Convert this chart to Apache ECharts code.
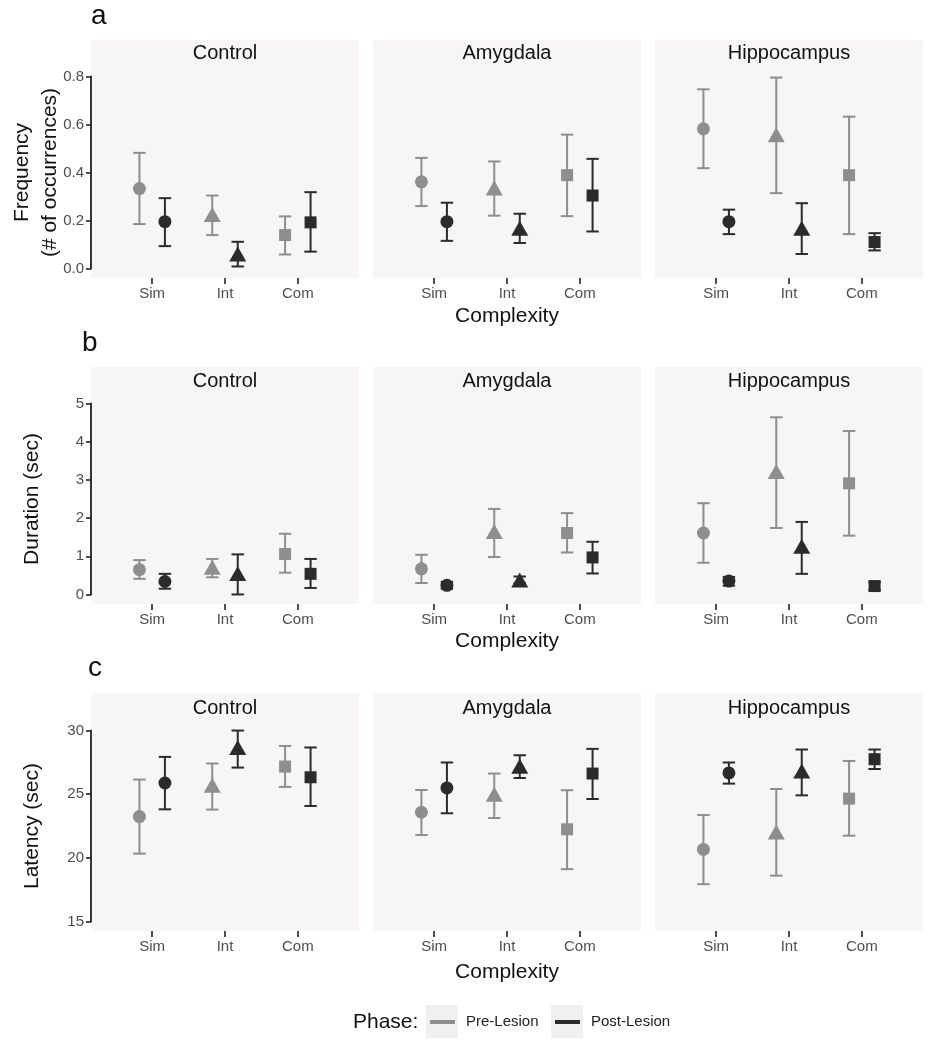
<!DOCTYPE html>
<html><head><meta charset="utf-8">
<script src="https://cdn.jsdelivr.net/npm/echarts@6/dist/echarts.min.js"></script>
<style>html,body{margin:0;padding:0;background:#fff}#c{width:940px;height:1050px}</style>
</head><body><div id="c"></div><script>
// ---------- DATA ----------
const regions = ['Control', 'Amygdala', 'Hippocampus'];
const complexity = ['Sim', 'Int', 'Com'];
const phases = ['Pre-Lesion', 'Post-Lesion'];
const shapes = ['circle', 'triangle', 'rect'];

// (a) Frequency (# of occurrences): [region][complexity]
const freqPreMean  = [[0.333, 0.225, 0.139], [0.361, 0.335, 0.389], [0.582, 0.557, 0.389]];
const freqPreLow   = [[0.185, 0.139, 0.058], [0.260, 0.220, 0.218], [0.418, 0.314, 0.143]];
const freqPreHigh  = [[0.482, 0.304, 0.217], [0.461, 0.446, 0.558], [0.747, 0.796, 0.633]];
const freqPostMean = [[0.195, 0.060, 0.192], [0.195, 0.168, 0.304], [0.195, 0.168, 0.110]];
const freqPostLow  = [[0.093, 0.008, 0.070], [0.115, 0.106, 0.154], [0.143, 0.060, 0.075]];
const freqPostHigh = [[0.293, 0.111, 0.318], [0.274, 0.228, 0.457], [0.245, 0.272, 0.147]];
const freqTicks = [0, 0.2, 0.4, 0.6, 0.8];

// (b) Duration (sec)
const durPreMean  = [[0.65, 0.71, 1.06], [0.67, 1.65, 1.61], [1.61, 3.22, 2.91]];
const durPreLow   = [[0.41, 0.45, 0.57], [0.30, 0.98, 1.10], [0.83, 1.74, 1.54]];
const durPreHigh  = [[0.90, 0.93, 1.59], [1.04, 2.24, 2.13], [2.39, 4.64, 4.28]];
const durPostMean = [[0.34, 0.55, 0.54], [0.24, 0.38, 0.97], [0.35, 1.26, 0.22]];
const durPostLow  = [[0.15, 0.00, 0.17], [0.15, 0.30, 0.55], [0.23, 0.54, 0.12]];
const durPostHigh = [[0.54, 1.05, 0.93], [0.33, 0.47, 1.38], [0.46, 1.90, 0.32]];
const durTicks = [0, 1, 2, 3, 4, 5];

// (c) Latency (sec)
const latPreMean  = [[23.24, 25.70, 27.17], [23.58, 24.99, 22.24], [20.66, 22.03, 24.65]];
const latPreLow   = [[20.33, 23.79, 25.57], [21.79, 23.13, 19.11], [17.93, 18.60, 21.74]];
const latPreHigh  = [[26.15, 27.41, 28.79], [25.33, 26.62, 25.31], [23.36, 25.41, 27.61]];
const latPostMean = [[25.88, 28.67, 26.33], [25.49, 27.20, 26.62], [26.67, 26.83, 27.75]];
const latPostLow  = [[23.81, 27.09, 24.07], [23.50, 26.27, 24.62], [25.83, 24.91, 26.98]];
const latPostHigh = [[27.93, 30.00, 28.67], [27.49, 28.06, 28.56], [27.49, 28.51, 28.51]];
const latTicks = [15, 20, 25, 30];

// ---------- LAYOUT / STYLE ----------
const FONT = 'Liberation Sans, Arial, Helvetica, sans-serif';
const PRE = '#8e8e8e', POST = '#2b2b2b', BG = '#f7f5f5', TICKC = '#4d4d4d';
const panelLeft = [91, 373, 655], panelW = 268;
const stripTop = [40, 367, 693], plotTop = [67, 394, 721], plotBottom = [278, 604, 931];
const stripCenter = [53, 381.5, 708];
const letters = ['a', 'b', 'c'], letterX = [91, 82, 88], letterY = [16.5, 343, 668];
const yRanges = [[-0.04, 0.84], [-0.25, 5.25], [14.25, 30.75]];
const X_MIN = 0.16, X_MAX = 3.84, DODGE = 0.175;
const yNames = ['Frequency\n(# of occurrences)', 'Duration (sec)', 'Latency (sec)'];
const yNameGap = [27, 45, 45];
const xNameGap = [28, 27, 31];

const rows = [
  {ticks: freqTicks, fmt: v => v.toFixed(1),
   pre: [freqPreMean, freqPreLow, freqPreHigh], post: [freqPostMean, freqPostLow, freqPostHigh]},
  {ticks: durTicks, fmt: v => String(v),
   pre: [durPreMean, durPreLow, durPreHigh], post: [durPostMean, durPostLow, durPostHigh]},
  {ticks: latTicks, fmt: v => String(v),
   pre: [latPreMean, latPreLow, latPreHigh], post: [latPostMean, latPostLow, latPostHigh]}
];

const grid = [], xAxis = [], yAxis = [], series = [], graphic = [];

function errRender(color) {
  return function (params, api) {
    const x = api.value(0), lo = api.value(1), hi = api.value(2);
    const pLo = api.coord([x, lo]), pHi = api.coord([x, hi]);
    const hw = 6.2;
    const style = {stroke: color, lineWidth: 2};
    return {type: 'group', children: [
      {type: 'line', shape: {x1: pLo[0], y1: pLo[1], x2: pHi[0], y2: pHi[1]}, style},
      {type: 'line', shape: {x1: pLo[0] - hw, y1: pLo[1], x2: pLo[0] + hw, y2: pLo[1]}, style},
      {type: 'line', shape: {x1: pHi[0] - hw, y1: pHi[1], x2: pHi[0] + hw, y2: pHi[1]}, style}
    ]};
  };
}
function symSize(i) { return i === 0 ? 13 : (i === 1 ? [17, 15] : 12); }

rows.forEach((row, r) => {
  // panel letter
  graphic.push({type: 'text', x: letterX[r], y: letterY[r], z: 1,
    style: {text: letters[r], fontSize: 28, fontFamily: FONT, fill: '#111', align: 'left', verticalAlign: 'middle'}});
  regions.forEach((reg, c) => {
    const gi = r * 3 + c;
    graphic.push({type: 'rect', z: 0, silent: true,
      shape: {x: panelLeft[c], y: stripTop[r], width: panelW, height: plotBottom[r] - stripTop[r]},
      style: {fill: BG}});
    graphic.push({type: 'text', z: 1, x: panelLeft[c] + panelW / 2, y: stripCenter[r],
      style: {text: reg, fontSize: 20, fontFamily: FONT, fill: '#111', align: 'center', verticalAlign: 'middle'}});
    grid.push({left: panelLeft[c], top: plotTop[r], width: panelW, height: plotBottom[r] - plotTop[r], containLabel: false});
    xAxis.push({
      type: 'value', gridIndex: gi, min: X_MIN, max: X_MAX,
      splitLine: {show: false},
      axisLine: {show: false, onZero: false},
      axisTick: {show: true, customValues: [1, 2, 3], length: 6, lineStyle: {color: '#222', width: 1.6}},
      axisLabel: {show: true, customValues: [1, 2, 3], formatter: v => complexity[Math.round(v) - 1] || '',
        margin: 8, fontSize: 15, color: TICKC, fontFamily: FONT},
      name: c === 1 ? 'Complexity' : '', nameLocation: 'middle', nameGap: xNameGap[r],
      nameTextStyle: {fontSize: 21, color: '#111', fontFamily: FONT}
    });
    yAxis.push({
      type: 'value', gridIndex: gi, min: yRanges[r][0], max: yRanges[r][1],
      splitLine: {show: false},
      axisLine: {show: false, onZero: false},
      axisTick: {show: c === 0, customValues: row.ticks, length: 5, lineStyle: {color: '#222', width: 1.6}},
      axisLabel: {show: c === 0, customValues: row.ticks, formatter: row.fmt,
        margin: 7, fontSize: 15, color: TICKC, fontFamily: FONT},
      name: c === 0 ? yNames[r] : '', nameLocation: 'middle', nameGap: yNameGap[r], nameMoveOverlap: false,
      nameTextStyle: {fontSize: 21, color: '#111', fontFamily: FONT, lineHeight: 28}
    });
    if (c === 0) {
      // capped y axis line spanning the tick range
      series.push({type: 'custom', xAxisIndex: gi, yAxisIndex: gi, clip: false, silent: true,
        data: [[X_MIN, row.ticks[0], row.ticks[row.ticks.length - 1]]],
        renderItem: (params, api) => {
          const a = api.coord([api.value(0), api.value(1)]), b = api.coord([api.value(0), api.value(2)]);
          return {type: 'line', shape: {x1: a[0], y1: a[1] + 0.8, x2: b[0], y2: b[1] - 0.8},
            style: {stroke: '#222', lineWidth: 1.8}};
        }});
    }
    [[row.pre, -DODGE, PRE, phases[0]], [row.post, DODGE, POST, phases[1]]].forEach(([d, off, color, name]) => {
      const errData = complexity.map((k, i) => [i + 1 + off, d[1][c][i], d[2][c][i]]);
      series.push({type: 'custom', name, xAxisIndex: gi, yAxisIndex: gi, clip: false, silent: true,
        z: 2, data: errData, renderItem: errRender(color)});
      const ptData = complexity.map((k, i) => ({value: [i + 1 + off, d[0][c][i]], symbol: shapes[i], symbolSize: symSize(i)}));
      series.push({type: 'scatter', name, xAxisIndex: gi, yAxisIndex: gi, z: 3, silent: true,
        itemStyle: {color, opacity: 1}, data: ptData});
    });
  });
});

// legend key backgrounds and title
graphic.push({type: 'text', x: 353, y: 1022, z: 1,
  style: {text: 'Phase:', fontSize: 21, fontFamily: FONT, fill: '#111', align: 'left', verticalAlign: 'middle'}});
graphic.push({type: 'rect', z: 0, shape: {x: 426, y: 1005, width: 32, height: 33}, style: {fill: '#f0f0f0'}});
graphic.push({type: 'rect', z: 0, shape: {x: 551, y: 1005, width: 32, height: 33}, style: {fill: '#f0f0f0'}});

const legendCommon = {orient: 'horizontal', top: 1014.5, padding: 0, icon: 'rect', itemWidth: 25, itemHeight: 4,
  selectedMode: false, textStyle: {fontSize: 15, color: '#222', fontFamily: FONT, padding: [0, 0, 0, 6]}};

const chart = echarts.init(document.getElementById('c'));
chart.setOption({
  animation: false,
  backgroundColor: '#ffffff',
  grid, xAxis, yAxis, series, graphic,
  legend: [
    Object.assign({}, legendCommon, {left: 430, data: [{name: phases[0], itemStyle: {color: PRE}}]}),
    Object.assign({}, legendCommon, {left: 555, data: [{name: phases[1], itemStyle: {color: POST}}]})
  ]
});
</script></body></html>
